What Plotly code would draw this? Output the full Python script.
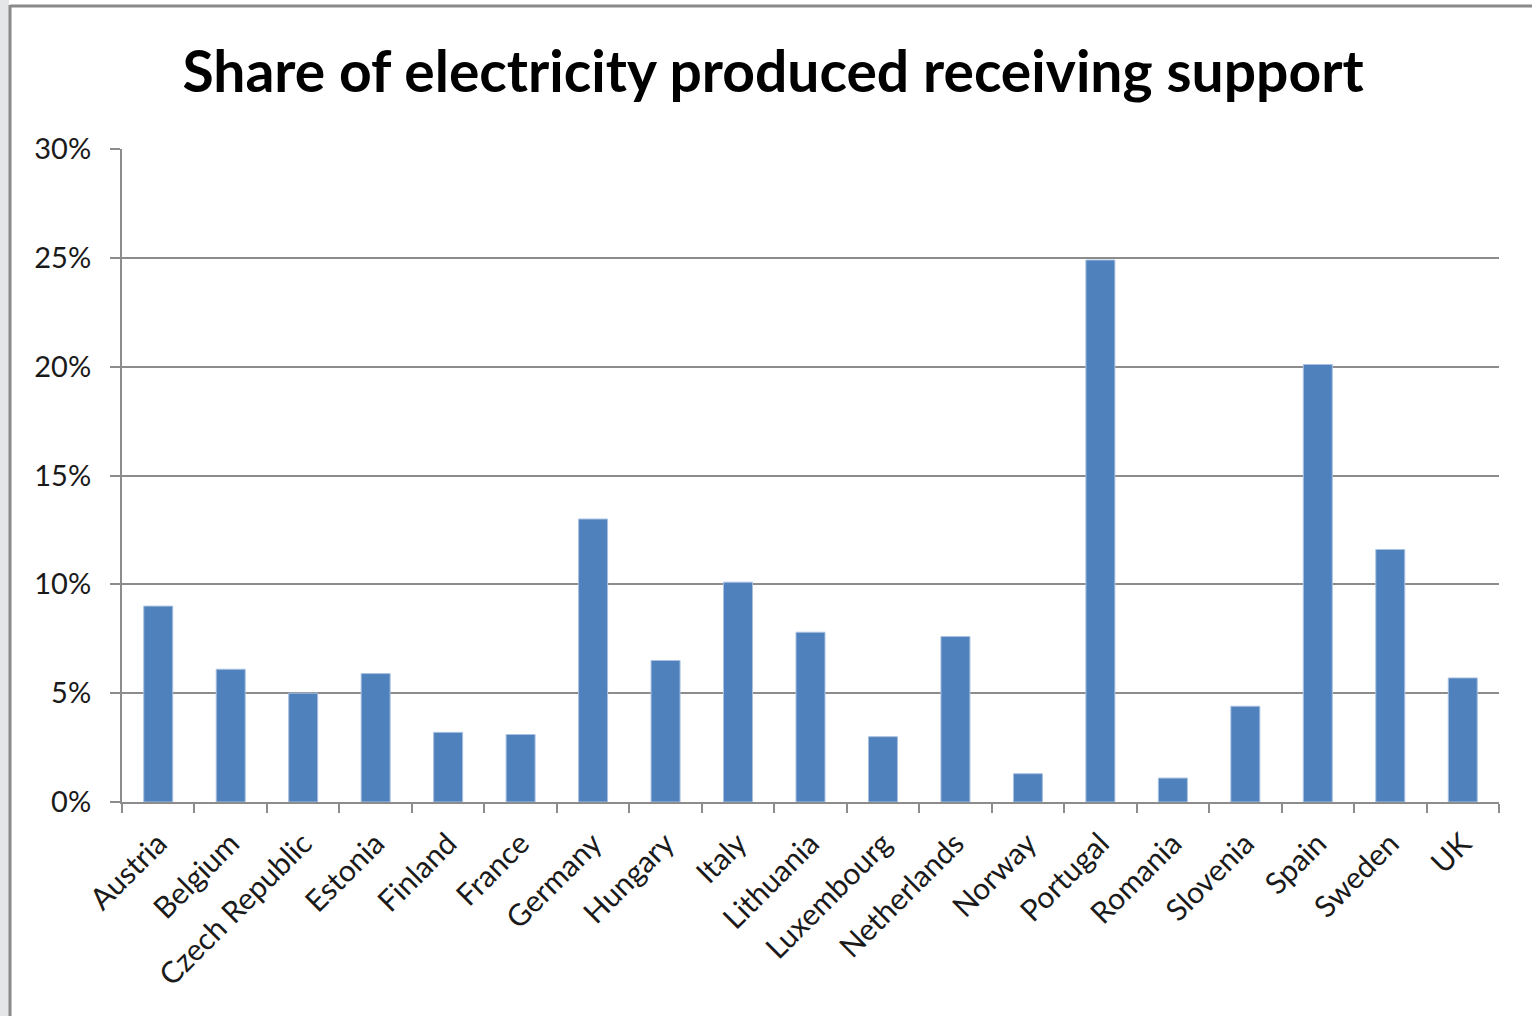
import plotly.graph_objects as go

countries = ["Austria", "Belgium", "Czech Republic", "Estonia", "Finland", "France",
             "Germany", "Hungary", "Italy", "Lithuania", "Luxembourg", "Netherlands",
             "Norway", "Portugal", "Romania", "Slovenia", "Spain", "Sweden", "UK"]
share_supported = [0.090, 0.061, 0.050, 0.059, 0.032, 0.031,
                   0.130, 0.065, 0.101, 0.078, 0.030, 0.076,
                   0.013, 0.249, 0.011, 0.044, 0.201, 0.116, 0.057]
y_ticks = [0.0, 0.05, 0.10, 0.15, 0.20, 0.25, 0.30]
y_tick_text = ["0%", "5%", "10%", "15%", "20%", "25%", "30%"]

W, H = 1532, 1016
L, R, T, B = 122, 33, 149, 214
pw, ph = W - L - R, H - T - B

def px_x(x):
    return (x - L) / pw

def px_y(y):
    return (H - B - y) / ph

FONT = "Lato, 'Open Sans', sans-serif"
GRID = "#8c8c8c"

fig = go.Figure(go.Bar(
    x=countries,
    y=share_supported,
    marker=dict(color="#4F81BD", line=dict(color="#a9c1e0", width=1)),
))

fig.update_layout(
    width=W, height=H,
    margin=dict(l=L, r=R, t=T, b=B),
    paper_bgcolor="white",
    plot_bgcolor="white",
    bargap=0.6,
    showlegend=False,
    title=dict(
        text="<b>Share of electricity produced receiving support</b>",
        font=dict(family=FONT, size=57, color="black"),
        x=773 / W, xref="container", xanchor="center",
        y=1 - 72 / H, yref="container", yanchor="middle",
    ),
    font=dict(family=FONT, color="#1a1a1a"),
)

fig.update_xaxes(
    type="category",
    tickangle=-45,
    tickson="boundaries",
    ticks="outside", ticklen=9, tickcolor=GRID, tickwidth=2,
    showline=True, linecolor=GRID, linewidth=2,
    showgrid=False,
    ticklabelstandoff=10,
    tickfont=dict(family=FONT, size=30, color="#1a1a1a"),
)

fig.update_yaxes(
    range=[0, 0.30],
    tickvals=y_ticks, ticktext=y_tick_text,
    ticks="outside", ticklen=10, tickcolor=GRID, tickwidth=2,
    showline=True, linecolor=GRID, linewidth=2,
    showgrid=True, gridcolor=GRID, gridwidth=1.5,
    zeroline=False,
    ticklabelstandoff=13,
    tickfont=dict(family=FONT, size=29, color="#1a1a1a"),
)

# Outer frame: decorative strip on the left, grey border along left and top
fig.add_shape(type="rect", xref="paper", yref="paper",
              x0=px_x(0), x1=px_x(9), y0=px_y(H), y1=px_y(0),
              fillcolor="#e4e6e8", line=dict(width=0), layer="below")
fig.add_shape(type="line", xref="paper", yref="paper",
              x0=px_x(10), x1=px_x(10), y0=px_y(H), y1=px_y(5),
              line=dict(color="#8a8a8a", width=3))
fig.add_shape(type="line", xref="paper", yref="paper",
              x0=px_x(10), x1=px_x(W), y0=px_y(6), y1=px_y(6),
              line=dict(color="#8a8a8a", width=3))

fig.write_html("out.html")
